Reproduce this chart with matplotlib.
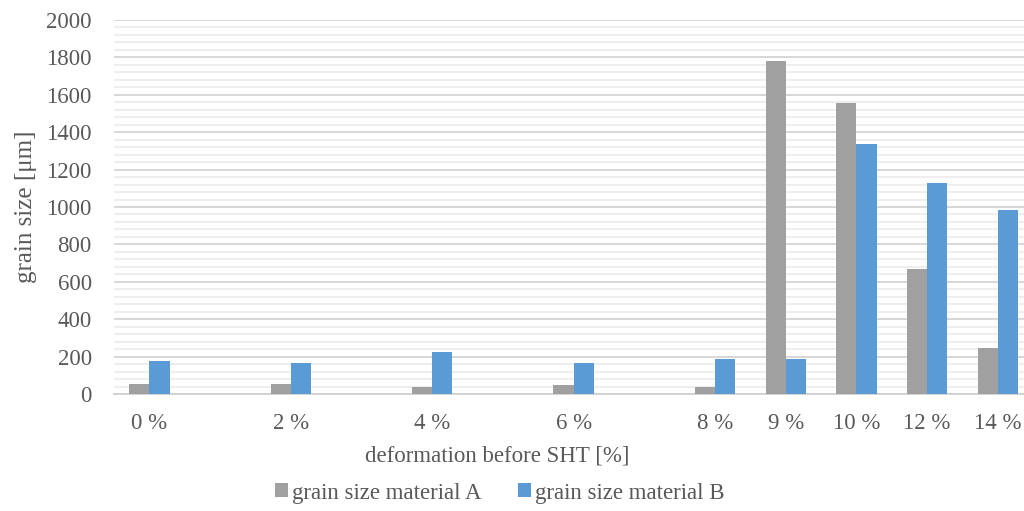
import numpy as np
import matplotlib.pyplot as plt
from matplotlib.ticker import MultipleLocator

plt.rcParams['font.family'] = ['Liberation Serif', 'DejaVu Serif']

# category slots as in the source sheet (blank slots have no data)
categories = ["0 %", "", "2 %", "", "4 %", "", "6 %", "", "8 %", "9 %", "10 %", "12 %", "14 %"]
material_a = [53, np.nan, 53, np.nan, 39, np.nan, 46, np.nan, 39, 1780, 1555, 670, 245]
material_b = [176, np.nan, 164, np.nan, 225, np.nan, 164, np.nan, 185, 185, 1335, 1130, 985]

txt = "#595959"
fig = plt.figure(figsize=(10.24, 5.11), dpi=100)
ax = fig.add_axes([114 / 1024, 1 - 394 / 511, (1024 - 114) / 1024, 374 / 511])

x = np.arange(len(categories))
w = 0.285
ax.bar(x - w / 2, material_a, w, color="#A0A0A0", label="grain size material A", zorder=3)
ax.bar(x + w / 2, material_b, w, color="#5B9BD5", label="grain size material B", zorder=3)

ax.set_xlim(-0.5, 12.37)
ax.set_ylim(0, 2000)
ax.set_xticks(x)
ax.set_xticklabels(categories)
ax.yaxis.set_major_locator(MultipleLocator(200))
ax.yaxis.set_minor_locator(MultipleLocator(40))
ax.grid(axis="y", which="major", color="#D4D4D4", lw=1.3, zorder=0)
ax.grid(axis="y", which="minor", color="#EDEDED", lw=1.3, zorder=0)
for s in ["top", "right", "left"]:
    ax.spines[s].set_visible(False)
ax.spines["bottom"].set_color("#D0D0D0")
ax.spines["bottom"].set_linewidth(1.3)
ax.tick_params(axis="both", which="both", length=0, labelsize=16.5, labelcolor=txt)
ax.tick_params(axis="x", pad=14)
ax.tick_params(axis="y", pad=16)

ax.set_xlabel("deformation before SHT [%]", fontsize=16.5, color=txt)
ax.set_ylabel("grain size [μm]", fontsize=18, color=txt)
ax.xaxis.set_label_coords((497 - 114) / (1024 - 114), -(456 - 394) / 374)
ax.xaxis.label.set_va("center")
ax.yaxis.set_label_coords(-(114 - 26) / (1024 - 114), 0.5)
ax.yaxis.label.set_va("center")

fig.legend(loc="center", bbox_to_anchor=(500 / 1024, 1 - 493 / 511), ncol=2,
           frameon=False, fontsize=16.5, labelcolor=txt, handlelength=0.55,
           handleheight=0.55, handletextpad=0.2, columnspacing=1.6)

fig.savefig("out.png", dpi=100)
